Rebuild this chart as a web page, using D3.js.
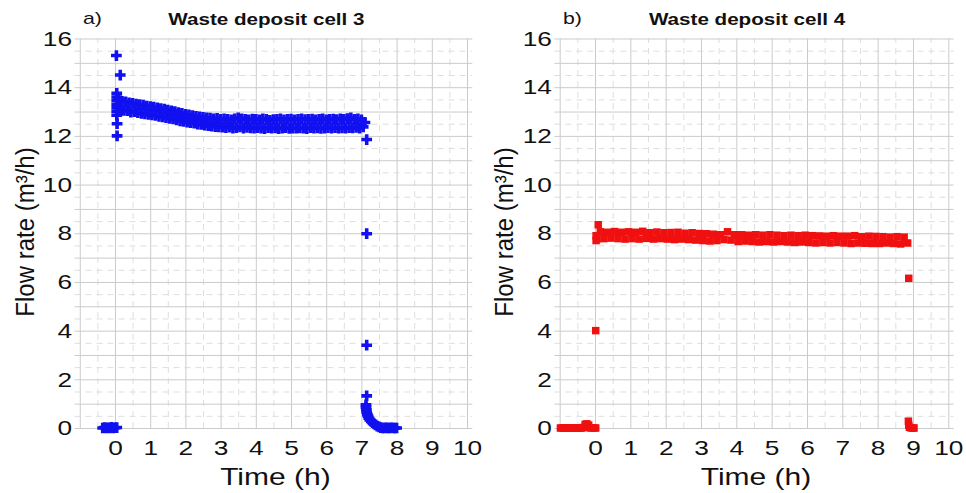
<!DOCTYPE html>
<html>
<head>
<meta charset="utf-8">
<script src="https://cdn.jsdelivr.net/npm/d3@7"></script>
<style>
  body { margin: 0; background: #fff; }
  svg { font-family: "Liberation Sans", Arial, sans-serif; }
  .grid-major line { stroke: #cbcbcb; stroke-width: 1; }
  .grid-minor line { stroke: #dedede; stroke-width: 1; stroke-dasharray: 6,5; }
  .grid-major path, .grid-minor path { display: none; }
  .tick-labels path, .tick-labels line { display: none; }
  .tick-labels text { font-size: 21px; fill: #111; }
  .axis-title { font-size: 24px; fill: #111; }
  .panel-title { font-size: 16.5px; font-weight: bold; fill: #111; }
  .panel-letter { font-size: 17px; fill: #111; }
</style>
</head>
<body>
<svg id="chart" width="966" height="493"></svg>
<script>
// ---- axis setup ----
const xTicks = [0, 1, 2, 3, 4, 5, 6, 7, 8, 9, 10];
const yTicks = [0, 2, 4, 6, 8, 10, 12, 14, 16];
const xDomain = [-1.15, 10.15];
const yDomain = [0, 16];

// ---- cell 3 (blue crosses), sampled runs: start time, step, values ----
const cell3PreStart = -0.35, cell3PreStep = 0.05;
const cell3Pre = [0, 0.02, 0, 0.01, 0, 0.03, 0, 0.01, 0.02];

const cell3StartTimes = [0.04, 0.15, 0.05, 0.05, 0.05, 0.05, 0.05, 0.05, 0.05, 0.06, 0.06];
const cell3StartValues = [15.3, 14.5, 13.75, 13.6, 13.45, 13.3, 13.15, 13.0, 12.85, 12.5, 12.0];

const cell3MainStart = 0.10, cell3MainStep = 0.05;
const cell3Main = [
  13.48, 13.10, 13.42, 13.05, 13.40, 13.04, 13.36, 12.98, 13.34, 13.00,
  13.30, 12.95, 13.28, 12.92, 13.26, 12.90, 13.22, 12.88, 13.20, 12.86,
  13.18, 12.84, 13.15, 12.80, 13.12, 12.78, 13.10, 12.75, 13.06, 12.72,
  13.03, 12.70, 13.00, 12.66, 12.96, 12.62, 12.92, 12.60, 12.88, 12.56,
  12.86, 12.54, 12.83, 12.52, 12.80, 12.48, 12.78, 12.47, 12.76, 12.44,
  12.74, 12.42, 12.73, 12.40, 12.70, 12.38, 12.72, 12.37, 12.68, 12.36,
  12.70, 12.34, 12.68, 12.36, 12.66, 12.32, 12.70, 12.34, 12.74, 12.37,
  12.70, 12.32, 12.68, 12.35, 12.66, 12.33, 12.69, 12.32, 12.68, 12.34,
  12.66, 12.32, 12.70, 12.30, 12.68, 12.34, 12.64, 12.32, 12.67, 12.33,
  12.68, 12.30, 12.70, 12.32, 12.66, 12.34, 12.68, 12.31, 12.69, 12.32,
  12.66, 12.32, 12.68, 12.33, 12.70, 12.32, 12.67, 12.30, 12.68, 12.34,
  12.69, 12.32, 12.66, 12.33, 12.68, 12.31, 12.70, 12.32, 12.66, 12.34,
  12.68, 12.32, 12.69, 12.34, 12.67, 12.32, 12.70, 12.33, 12.68, 12.32,
  12.71, 12.34, 12.74, 12.33, 12.68, 12.35, 12.70, 12.32, 12.66, 12.37,
  12.55
];

const cell3EndTimes = [7.15, 7.15, 7.15, 7.15, 7.13, 7.13, 7.14, 7.15, 7.17, 7.19, 7.21, 7.24,
  7.28, 7.32, 7.36, 7.40, 7.45, 7.50, 7.55, 7.60, 7.65, 7.70, 7.75, 7.80, 7.85, 7.90, 7.95, 8.00];
const cell3EndValues = [11.85, 7.98, 3.4, 1.32, 0.95, 0.85, 0.75, 0.65, 0.55, 0.48, 0.40, 0.33,
  0.27, 0.22, 0.17, 0.13, 0.08, 0.05, 0.02, 0, 0, 0.01, 0, 0, 0.01, 0, 0, 0];

// ---- cell 4 (red squares) ----
const cell4PreStart = -0.98, cell4PreStep = 0.05;
const cell4Pre = [0, 0, 0.01, 0, 0, 0.01, 0, 0, 0.01, 0, 0, 0, 0, 0.02, 0.15, 0.17, 0.12, 0, 0.01, 0, 0];

const cell4StartTimes = [0.02, 0.09, 0.03, 0.03];
const cell4StartValues = [4.0, 8.35, 7.7, 7.9];

const cell4MainStart = 0.05, cell4MainStep = 0.1;
const cell4Main = [
  7.76, 8.06, 7.78, 8.04, 7.80, 8.07, 7.78, 8.04, 7.76, 8.06,
  7.78, 8.04, 7.76, 8.08, 7.79, 8.02, 7.76, 8.05, 7.78, 8.02,
  7.76, 8.03, 7.74, 8.04, 7.76, 8.00, 7.74, 8.02, 7.72, 7.99,
  7.70, 7.98, 7.68, 7.96, 7.70, 7.94, 7.74, 8.06, 7.72, 7.94,
  7.66, 7.94, 7.68, 7.92, 7.66, 7.94, 7.64, 7.92, 7.66, 7.94,
  7.64, 7.92, 7.66, 7.90, 7.64, 7.92, 7.62, 7.90, 7.64, 7.92,
  7.62, 7.90, 7.60, 7.89, 7.62, 7.88, 7.60, 7.90, 7.62, 7.88,
  7.60, 7.88, 7.58, 7.90, 7.60, 7.86, 7.59, 7.88, 7.58, 7.87,
  7.58, 7.86, 7.60, 7.84, 7.58, 7.86, 7.56, 7.84, 7.60
];

const cell4EndTimes = [8.88, 8.87, 8.88, 8.90, 8.95, 9.00, 9.03];
const cell4EndValues = [6.15, 0.28, 0.12, 0.03, 0, 0, 0];

// horizontal stretch of the text in the original figure
const textStretch = 1.25;

// turn a sampled run into points
function run(start, step, values) {
  return values.map((v, i) => ({ t: start + i * step, v: v }));
}
function pairs(times, values) {
  return times.map((t, i) => ({ t: t, v: values[i] }));
}

const cell3Points = [].concat(
  run(cell3PreStart, cell3PreStep, cell3Pre),
  run(cell3MainStart, cell3MainStep, cell3Main),
  pairs(cell3StartTimes, cell3StartValues),
  pairs(cell3EndTimes, cell3EndValues)
);
const cell4Points = [].concat(
  run(cell4PreStart, cell4PreStep, cell4Pre),
  run(cell4MainStart, cell4MainStep, cell4Main),
  pairs(cell4StartTimes, cell4StartValues),
  pairs(cell4EndTimes, cell4EndValues)
);

const svg = d3.select("#chart");

function drawPanel(opts) {
  let x = d3.scaleLinear().domain(xDomain).range([opts.left, opts.right]);
  let y = d3.scaleLinear().domain(yDomain).range([428, 38.5]);
  let g = svg.append("g");
  let stretch = "scale(" + textStretch + ",1)";

  // minor dashed grid
  g.append("g").attr("class", "grid-minor")
    .attr("transform", "translate(0,428)")
    .call(d3.axisBottom(x).tickValues(d3.range(-0.5, 10, 1)).tickSize(-(428 - 38.5)).tickFormat(""));
  g.append("g").attr("class", "grid-minor")
    .attr("transform", "translate(" + opts.left + ",0)")
    .call(d3.axisLeft(y).tickValues(d3.range(0.5, 16, 1)).tickSize(-(opts.right - opts.left)).tickFormat(""));

  // major solid grid
  g.append("g").attr("class", "grid-major")
    .attr("transform", "translate(0,428)")
    .call(d3.axisBottom(x).tickValues(d3.range(-1, 11, 1)).tickSize(-(428 - 38.5)).tickFormat(""));
  g.append("g").attr("class", "grid-major")
    .attr("transform", "translate(" + opts.left + ",0)")
    .call(d3.axisLeft(y).tickValues(d3.range(0, 17, 1)).tickSize(-(opts.right - opts.left)).tickFormat(""));

  // tick labels
  g.append("g").attr("class", "tick-labels")
    .attr("transform", "translate(0,428)")
    .call(d3.axisBottom(x).tickValues(xTicks).tickSize(0).tickPadding(12).tickFormat(d3.format("d")))
    .selectAll("text").attr("transform", stretch);
  g.append("g").attr("class", "tick-labels")
    .attr("transform", "translate(" + opts.left + ",0)")
    .call(d3.axisLeft(y).tickValues(yTicks).tickSize(0).tickPadding(2).tickFormat(d3.format("d")))
    .selectAll("text").attr("transform", stretch);

  // points
  g.append("g").selectAll("path")
    .data(opts.points)
    .enter().append("path")
    .attr("transform", d => "translate(" + x(d.t) + "," + y(d.v) + ")")
    .attr("d", d3.symbol().type(opts.symbol).size(opts.size))
    .attr("fill", opts.color);

  // titles
  g.append("text").attr("class", "panel-letter")
    .attr("transform", "translate(" + (opts.left + 8.5) + ",24) " + stretch)
    .text(opts.letter);
  g.append("text").attr("class", "panel-title")
    .attr("transform", "translate(" + ((opts.left + opts.right) / 2 - 7) + ",25) " + stretch)
    .attr("text-anchor", "middle")
    .text(opts.title);
  g.append("text").attr("class", "axis-title")
    .attr("transform", "translate(" + ((opts.left + opts.right) / 2 + 2) + ",485) " + stretch)
    .attr("text-anchor", "middle")
    .text("Time (h)");
  g.append("text").attr("class", "axis-title")
    .attr("transform", "translate(" + (opts.left - 41) + ",232) rotate(-90) scale(1,1.08)")
    .attr("text-anchor", "middle")
    .text("Flow rate (m³/h)");
}

drawPanel({
  left: 74.5, right: 472.3,
  points: cell3Points, symbol: d3.symbolCross, size: 64, color: "#1010f0",
  letter: "a)", title: "Waste deposit cell 3"
});
drawPanel({
  left: 554.4, right: 953.6,
  points: cell4Points, symbol: d3.symbolSquare, size: 56, color: "#f01010",
  letter: "b)", title: "Waste deposit cell 4"
});
</script>
</body>
</html>
